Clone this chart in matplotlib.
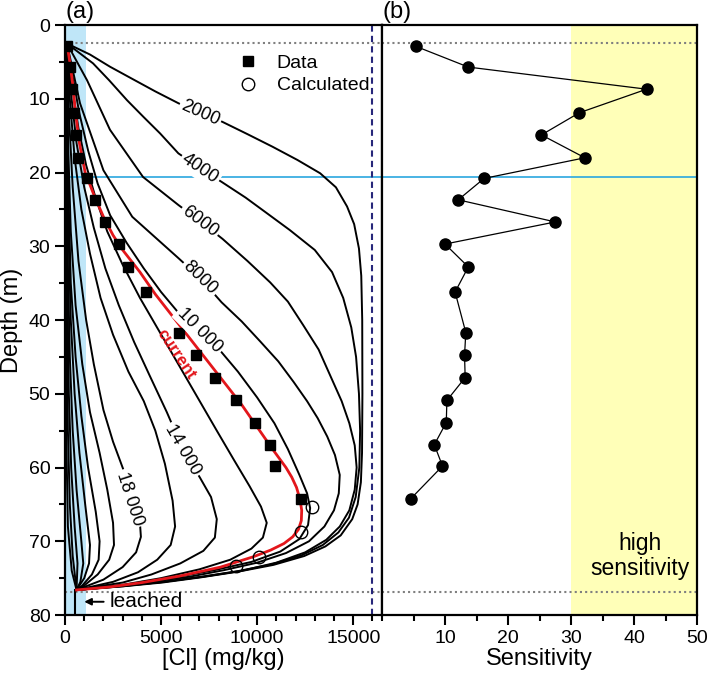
import matplotlib
matplotlib.use('Agg')
import matplotlib.pyplot as plt
from matplotlib.ticker import MultipleLocator

plt.rcParams['font.family'] = ['Liberation Sans', 'DejaVu Sans']

# measured samples: depth (m), chloride (mg/kg), sensitivity
depth = [2.9, 5.7, 8.7, 11.9, 14.9, 18.0, 20.8, 23.7, 26.7, 29.7,
         32.8, 36.2, 41.7, 44.8, 47.8, 50.9, 53.9, 56.9, 59.8, 64.2]
cl_data = [120, 260, 350, 450, 570, 700, 1130, 1560, 2080, 2810,
           3300, 4200, 5950, 6820, 7810, 8890, 9900, 10680, 10940, 12270]
sensitivity = [5.4, 13.7, 42.0, 31.3, 25.3, 32.2, 16.2, 12.1, 27.5, 10.0,
               13.7, 11.6, 13.3, 13.1, 13.2, 10.3, 10.2, 8.3, 9.6, 4.6]

calc_cl = [12850, 12290, 10100, 8890]
calc_depth = [65.3, 68.7, 72.1, 73.4]

# model profiles (conc, depth)
curve_2000 = [(100, 2.5), (1300, 4), (2340, 5.65), (3500, 7.3), (4700, 9), (5900, 10.6), (7030, 12),
              (8170, 13.1), (9500, 14.8), (10800, 16.5), (12100, 18.3), (13280, 20.1), (14100, 22),
              (14680, 24.6), (15050, 27), (15300, 30.3), (15420, 34), (15470, 40), (15480, 50),
              (15460, 58), (15400, 62), (15230, 65), (14950, 67), (14350, 69.2), (13550, 70.7),
              (12450, 72), (10850, 73.2), (9050, 74.1), (7050, 74.9), (5050, 75.6), (3050, 76.1),
              (1550, 76.4), (600, 76.6)]
curve_4000 = [(100, 2.5), (1460, 5.2), (2300, 7.5), (3230, 10.2), (4100, 12.5), (4950, 14.7), (5900, 17.4),
              (7030, 19.4), (8170, 21.3), (9400, 23.4), (10500, 25.5), (11700, 27.8), (13000, 30.5),
              (13900, 33.5), (14480, 37), (14900, 41), (15150, 45), (15300, 50), (15360, 55),
              (15320, 60), (15130, 64), (14780, 66.8), (14230, 68.8), (13420, 70.5), (12320, 71.9),
              (10720, 73.15), (9000, 74.05), (7000, 74.85), (5000, 75.55), (3000, 76.05), (1500, 76.4),
              (600, 76.6)]
curve_6000 = [(100, 2.5), (1150, 7.5), (2340, 14.2), (4060, 20.6), (5900, 24.4), (7030, 26.6), (8200, 29),
              (9500, 32), (10680, 34.9), (11600, 37.5), (12400, 40.7), (13200, 44), (13800, 47.5),
              (14400, 51), (14800, 54), (15080, 57), (15180, 60), (15080, 63), (14800, 65.8),
              (14300, 68), (13600, 69.8), (12500, 71.5), (11000, 72.9), (9200, 74), (7200, 74.8),
              (5100, 75.5), (3000, 76.1), (1500, 76.4), (600, 76.6)]
curve_8000 = [(100, 2.5), (780, 10.6), (2000, 19.7), (3500, 26), (4700, 28.8), (5900, 31.6), (7030, 34.3),
              (8150, 37.6), (9200, 40.2), (10160, 42.9), (11100, 45.6), (11900, 48.4), (12600, 51),
              (13150, 53.3), (13650, 55.8), (14050, 58.3), (14300, 61), (14250, 63.5), (14000, 65.8),
              (13500, 68), (12700, 70), (11500, 71.6), (10000, 72.9), (8300, 73.9), (6500, 74.8),
              (4800, 75.4), (3000, 76), (1500, 76.4), (600, 76.6)]
curve_10000 = [(100, 2.5), (400, 7), (750, 12), (1200, 17), (1700, 21.5), (2350, 25.8), (3200, 29.5),
               (4100, 33), (5000, 36.2), (5900, 39), (7000, 41.4), (7900, 43.6), (9000, 47),
               (10000, 50.5), (10900, 54), (11600, 57.5), (12200, 61), (12600, 63.5), (12760, 65.5),
               (12650, 67.8), (12200, 69.7), (11200, 71.4), (9700, 72.8), (7800, 73.9), (5500, 75),
               (3200, 75.9), (1600, 76.3), (600, 76.6)]
curve_12000 = [(100, 2.5), (350, 8), (700, 14), (1100, 19), (1600, 23.5), (2200, 28), (3000, 32.5),
               (3900, 37), (4900, 41.5), (5900, 46), (6900, 50.5), (7900, 55), (8800, 59), (9600, 62.5),
               (10200, 65.3), (10500, 67.5), (10300, 69.5), (9700, 71), (8600, 72.5), (7000, 73.8),
               (5000, 75), (3000, 75.9), (1500, 76.3), (600, 76.6)]
curve_14000 = [(100, 2.5), (300, 9), (600, 16), (1000, 22), (1500, 27.5), (2100, 33), (2800, 38),
               (3600, 43), (4400, 47.5), (5300, 52.5), (6150, 57.6), (7030, 61.4), (7600, 64),
               (7900, 67), (7800, 69.5), (7200, 71.3), (6000, 73), (4500, 74.5), (3000, 75.6),
               (1500, 76.2), (600, 76.6)]
curve_16000 = [(100, 2.5), (250, 10), (500, 18), (850, 25), (1300, 31), (1850, 37), (2500, 42),
               (3300, 47), (4100, 51), (4700, 55), (5200, 59.5), (5600, 64.5), (5730, 68),
               (5500, 70.5), (4800, 72.5), (3800, 74.2), (2500, 75.5), (1300, 76.2), (600, 76.6)]
curve_18000 = [(100, 2.5), (200, 12), (400, 22), (700, 32), (1100, 40), (1500, 46), (2000, 52.2),
               (2500, 56.5), (3040, 60.3), (3380, 64.2), (3900, 67.5), (3950, 69.4), (3700, 71.5),
               (3000, 73.5), (2000, 75.2), (1100, 76.1), (600, 76.6)]
curve_20000 = [(100, 2.5), (150, 15), (300, 28), (550, 38), (900, 46), (1300, 52.5), (1800, 58),
               (2200, 63), (2500, 67.5), (2550, 70.5), (2300, 72.5), (1700, 74.5), (1000, 76), (600, 76.6)]
curve_22000 = [(100, 2.5), (150, 20), (300, 35), (550, 45), (850, 53), (1200, 60), (1600, 66),
               (1800, 70), (1750, 72.5), (1400, 74.5), (900, 76), (600, 76.6)]
curve_24000 = [(100, 2.5), (150, 25), (300, 40), (500, 50), (750, 58), (1050, 65), (1300, 70.5),
               (1250, 73), (1000, 75), (600, 76.6)]
curve_26000 = [(100, 2.5), (130, 30), (250, 45), (400, 55), (600, 63), (850, 70), (950, 73),
               (800, 75.5), (600, 76.6)]
curve_28000 = [(100, 2.5), (120, 35), (200, 50), (320, 60), (500, 68), (650, 73), (600, 76.6)]
curve_30000 = [(100, 2.5), (90, 40), (150, 55), (250, 65), (400, 72), (600, 76.6)]
curve_32000 = [(100, 2.5), (50, 30), (60, 55), (150, 68), (350, 74), (600, 76.6)]
curve_current = [(100, 2.5), (250, 5), (400, 8), (550, 12), (750, 16), (1050, 20), (1500, 23),
                 (2000, 26), (2500, 28.5), (3000, 30.5), (3900, 33.5), (4700, 36.5), (5600, 39.5),
                 (6500, 42.5), (7400, 45.5), (8300, 48.5), (9200, 51.5), (10000, 54.5), (10800, 57.5),
                 (11500, 60), (11800, 61.3), (12050, 62.7), (12230, 64.3), (12320, 65.8), (12300, 67.2),
                 (12150, 68.4), (11850, 69.4), (11400, 70.3), (10700, 71.2), (9800, 72.1), (8100, 73.5),
                 (6000, 74.7), (4000, 75.6), (2300, 76.2), (600, 76.6)]

model_curves = [curve_2000, curve_4000, curve_6000, curve_8000, curve_10000, curve_12000,
                curve_14000, curve_16000, curve_18000, curve_20000, curve_22000, curve_24000,
                curve_26000, curve_28000, curve_30000, curve_32000]

fig = plt.figure(figsize=(7.09, 6.82), dpi=100)
ax0 = fig.add_axes([0.0917, 0.0982, 0.4471, 0.8651])
ax1 = fig.add_axes([0.5388, 0.0982, 0.4443, 0.8651])

# ---- panel (a)
ax0.axvspan(0, 1100, color='#bfe6f8', lw=0, zorder=0)
for c in model_curves:
    ax0.plot([p[0] for p in c], [p[1] for p in c], color='black', lw=1.4, zorder=2)
ax0.plot([p[0] for p in curve_current], [p[1] for p in curve_current], color='#e3161b', lw=2, zorder=3)
ax0.plot(cl_data, depth, 's', color='black', ms=7.5, zorder=4, label='Data')
ax0.plot(calc_cl, calc_depth, 'o', mfc='none', mec='black', mew=1, ms=9, zorder=4, label='Calculated')

ax0.axhline(20.65, color='#2aa7df', lw=1.2, zorder=1)
ax0.axhline(2.5, color='gray', lw=1.5, ls=(0, (1, 1.5)), zorder=1)
ax0.axhline(76.9, color='gray', lw=1.5, ls=(0, (1, 1.5)), zorder=1)
ax0.axvline(16000, color='#27277a', lw=1.5, ls=(0, (3, 2)), zorder=1)
ax0.plot([500, 500], [76.6, 80], color='black', lw=1.5, zorder=2)
ax0.annotate('leached', xy=(1000, 78.2), xytext=(2300, 78.2), fontsize=15, va='center', ha='left',
             arrowprops=dict(arrowstyle='-|>', color='black', lw=1.4, shrinkA=2, shrinkB=0,
                             mutation_scale=10))

box = dict(boxstyle='square,pad=0.12', fc='white', ec='none')
labels = [('2000', 7030, 12.0, -24), ('4000', 7030, 19.5, -34), ('6000', 7030, 26.6, -37),
          ('8000', 7030, 34.3, -44), ('10 000', 7030, 41.4, -45), ('14 000', 6150, 57.6, -60),
          ('18 000', 3380, 64.2, -72)]
for txt, x, y, r in labels:
    ax0.text(x, y, txt, fontsize=13, rotation=r, rotation_mode='anchor', ha='center', va='center',
             bbox=box, zorder=5)
ax0.text(5800, 44.7, 'current', color='#e3161b', fontsize=12, fontweight='bold', rotation=-56,
         rotation_mode='anchor', ha='center', va='center', zorder=5)

ax0.legend(loc='upper left', bbox_to_anchor=(0.49, 0.98), frameon=False, fontsize=14,
           handletextpad=1.0, labelspacing=0.25, handlelength=1.0)

ax0.set_xlim(0, 16500)
ax0.set_ylim(80, 0)
ax0.xaxis.set_major_locator(MultipleLocator(5000))
ax0.xaxis.set_minor_locator(MultipleLocator(1000))
ax0.yaxis.set_major_locator(MultipleLocator(10))
ax0.yaxis.set_minor_locator(MultipleLocator(5))
ax0.set_xlabel('[Cl] (mg/kg)', fontsize=17, labelpad=1)
ax0.set_ylabel('Depth (m)', fontsize=17, labelpad=4)
ax0.text(0.0, 1.004, '(a)', transform=ax0.transAxes, fontsize=17, va='bottom', ha='left')

# ---- panel (b)
ax1.axvspan(30, 50, color='#ffffb8', lw=0, zorder=0)
ax1.axhline(20.65, color='#2aa7df', lw=1.2, zorder=1)
ax1.axhline(2.5, color='gray', lw=1.5, ls=(0, (1, 1.5)), zorder=1)
ax1.axhline(76.9, color='gray', lw=1.5, ls=(0, (1, 1.5)), zorder=1)
ax1.plot(sensitivity, depth, 'o-', color='black', lw=0.9, ms=8, zorder=3)
ax1.text(41, 72, 'high\nsensitivity', fontsize=16.5, ha='center', va='center', linespacing=1.15)
ax1.set_xlim(0, 50)
ax1.set_ylim(80, 0)
ax1.xaxis.set_major_locator(MultipleLocator(10))
ax1.xaxis.set_minor_locator(MultipleLocator(5))
ax1.set_xticks([10, 20, 30, 40, 50])
ax1.set_yticks([])
ax1.set_xlabel('Sensitivity', fontsize=17, labelpad=1)
ax1.text(0.0, 1.004, '(b)', transform=ax1.transAxes, fontsize=17, va='bottom', ha='left')

for ax in (ax0, ax1):
    for s in ax.spines.values():
        s.set_linewidth(1.6)
    ax.tick_params(which='major', direction='out', length=7, width=1.5, labelsize=14)
    ax.tick_params(which='minor', direction='out', length=4.5, width=1.5)
ax1.tick_params(axis='y', which='both', left=False)

plt.savefig('out.png', dpi=100)
